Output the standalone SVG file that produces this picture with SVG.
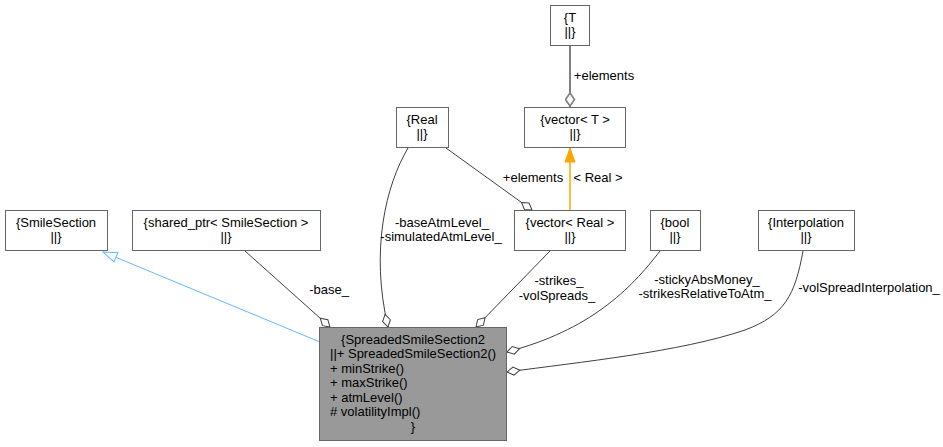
<svg xmlns="http://www.w3.org/2000/svg" width="943" height="447" viewBox="0 0 943 447">
<defs>
<style>
text{font-family:"Liberation Sans",Arial,sans-serif;font-size:13px;fill:#000}
.c{text-anchor:middle}
.box{fill:#fff;stroke:#666;stroke-width:1}
.main{fill:#999;stroke:#666;stroke-width:1}
.e{fill:none;stroke:#404040;stroke-width:1}
</style>
<marker id="dia" markerUnits="userSpaceOnUse" markerWidth="15" markerHeight="10" refX="13" refY="4" orient="auto" viewBox="-1 -1 15 10">
<path d="M0,4 L6.5,0 L13,4 L6.5,8 Z" fill="#fff" stroke="#404040" stroke-width="1"/>
</marker>
<marker id="diag" markerUnits="userSpaceOnUse" markerWidth="16" markerHeight="11" refX="14" refY="4.5" orient="auto" viewBox="-1.5 -1.5 16 11">
<path d="M0,4.5 L6.5,0 L13,4.5 L6.5,9 Z" fill="#fff" stroke="#808080" stroke-width="1.6"/>
</marker>
<marker id="inh" markerUnits="userSpaceOnUse" markerWidth="16" markerHeight="12" refX="14" refY="5" orient="auto" viewBox="-1 -1 16 12">
<path d="M0,0 L14,5 L0,10 Z" fill="#fff" stroke="#63b8ff" stroke-width="1"/>
</marker>
<marker id="tpl" markerUnits="userSpaceOnUse" markerWidth="16" markerHeight="12" refX="14" refY="5" orient="auto" viewBox="-1 -1 16 12">
<path d="M0,0 L14,5 L0,10 Z" fill="#ffa500" stroke="#ffa500" stroke-width="1"/>
</marker>
</defs>
<g id="edges">
<path d="M320,342 L103,252" fill="none" stroke="#63b8ff" stroke-width="1" marker-end="url(#inh)"/>
<path class="e" d="M245,251 L330,327" marker-end="url(#dia)"/>
<path class="e" d="M408,148 C386,185 370,250 388,327" marker-end="url(#dia)"/>
<path class="e" d="M446,148 L532,210" marker-end="url(#dia)"/>
<path d="M570,45 L570,107" fill="none" stroke="#808080" stroke-width="2" marker-end="url(#diag)"/>
<path d="M570,210 L570,148" fill="none" stroke="#ffa500" stroke-width="1.5" marker-end="url(#tpl)"/>
<path class="e" d="M550,251 L476,327" marker-end="url(#dia)"/>
<path class="e" d="M660,251 C630,290 590,330 507,352" marker-end="url(#dia)"/>
<path class="e" d="M803,251 C795,295 785,315 745,330 C680,352 580,362 507,372" marker-end="url(#dia)"/>
<text class="c" x="329" y="294">-base_</text>
<text class="c" x="442" y="227">-baseAtmLevel_</text>
<text class="c" x="441" y="241">-simulatedAtmLevel_</text>
<text class="c" x="533" y="182">+elements</text>
<text class="c" x="598" y="182">&lt; Real &gt;</text>
<text class="c" x="604" y="80">+elements</text>
<text class="c" x="559" y="285">-strikes_</text>
<text class="c" x="557" y="300">-volSpreads_</text>
<text class="c" x="707" y="284">-stickyAbsMoney_</text>
<text class="c" x="705" y="298">-strikesRelativeToAtm_</text>
<text class="c" x="869" y="292">-volSpreadInterpolation_</text>
</g>
<g id="SmileSection">
<rect class="box" x="5.5" y="210.5" width="102" height="40"/>
<text class="c" x="56" y="227">{SmileSection</text>
<text class="c" x="56" y="241">||}</text>
</g>
<g id="shared_ptr">
<rect class="box" x="132.5" y="210.5" width="188" height="40"/>
<text class="c" x="226" y="227">{shared_ptr&lt; SmileSection &gt;</text>
<text class="c" x="226" y="241">||}</text>
</g>
<g id="Real">
<rect class="box" x="396.5" y="107.5" width="52" height="40"/>
<text class="c" x="422" y="124">{Real</text>
<text class="c" x="422" y="138">||}</text>
</g>
<g id="vectorT">
<rect class="box" x="524.5" y="107.5" width="101" height="40"/>
<text class="c" x="575" y="124">{vector&lt; T &gt;</text>
<text class="c" x="575" y="138">||}</text>
</g>
<g id="T">
<rect class="box" x="550.5" y="5.5" width="39" height="40"/>
<text class="c" x="570" y="22">{T</text>
<text class="c" x="570" y="36">||}</text>
</g>
<g id="vectorReal">
<rect class="box" x="514.5" y="210.5" width="111" height="40"/>
<text class="c" x="570" y="227">{vector&lt; Real &gt;</text>
<text class="c" x="570" y="241">||}</text>
</g>
<g id="bool">
<rect class="box" x="650.5" y="210.5" width="50" height="40"/>
<text class="c" x="675" y="227">{bool</text>
<text class="c" x="675" y="241">||}</text>
</g>
<g id="Interpolation">
<rect class="box" x="758.5" y="210.5" width="96" height="40"/>
<text class="c" x="806" y="227">{Interpolation</text>
<text class="c" x="806" y="241">||}</text>
</g>
<g id="SpreadedSmileSection2">
<rect class="main" x="319.5" y="327.5" width="187" height="113"/>
<text class="c" x="413" y="344">{SpreadedSmileSection2</text>
<text x="330" y="358">||+ SpreadedSmileSection2()</text>
<text x="330" y="373">+ minStrike()</text>
<text x="330" y="387">+ maxStrike()</text>
<text x="330" y="402">+ atmLevel()</text>
<text x="330" y="416">#&#160;volatilityImpl()</text>
<text class="c" x="413" y="431">}</text>
</g>
</svg>
